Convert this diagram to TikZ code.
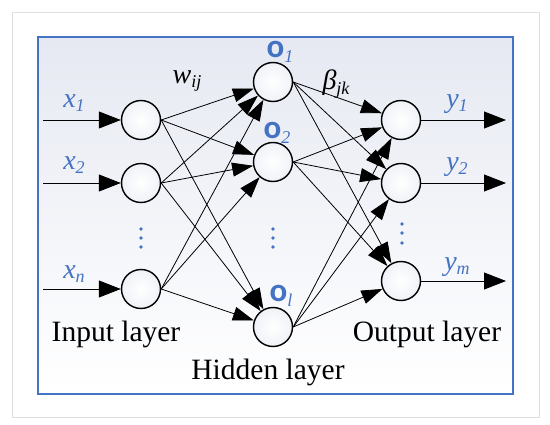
\documentclass[tikz,border=0pt]{standalone}
\usepackage{fontspec}
\setmainfont{Liberation Serif}
\newfontfamily\osans{Carlito}
\usepackage{tikz}
\usetikzlibrary{arrows.meta, positioning}

\definecolor{netblue}{HTML}{4472C4}
\definecolor{paneltop}{HTML}{E6E9F2}
\newcommand{\lowsub}[1]{\raisebox{-0.35ex}{\fontsize{18}{18}\selectfont\itshape #1}}

\begin{document}
\begin{tikzpicture}[
    x=1pt, y=-1pt,
    neuron/.style={circle, draw, line width=1.4pt, minimum size=39pt, inner sep=0pt, shading=radial, inner color=white, outer color=paneltop!60!white},
    arrow/.style={-{Triangle[length=21pt, width=14pt]}, line width=0.8pt},
    ioarrow/.style={-{Triangle[length=22pt, width=17pt]}, line width=0.8pt},
    varlabel/.style={text=netblue, font=\fontsize{28}{28}\selectfont\itshape},
    olabel/.style={text=netblue, font=\fontsize{33}{33}\selectfont\osans\bfseries},
    dotmark/.style={circle, fill=netblue, inner sep=0pt, minimum width=3.4pt, minimum height=3.8pt},
    layer/.style={font=\fontsize{29.5}{29.5}\selectfont}
]
\useasboundingbox (0,0) rectangle (550,425);

% frames
\draw[gray!25, line width=0.8pt] (12,12) rectangle (539,417);
\draw[netblue, line width=1.8pt, top color=paneltop, bottom color=white] (38,37) rectangle (513,394);

% input layer
\node[neuron] (in1) at (141,120) {};
\node[neuron] (in2) at (141,183) {};
\node[neuron] (inn) at (141,289) {};
\foreach \k/\yy in {a/229, b/238, c/247}
    \node[dotmark] (indot\k) at (141,\yy) {};

% hidden layer
\node[neuron] (hid1) at (273,82) {};
\node[neuron] (hid2) at (273,162) {};
\node[neuron] (hidl) at (273,327) {};
\foreach \k/\yy in {a/229, b/238, c/247}
    \node[dotmark] (hiddot\k) at (273,\yy) {};

% output layer
\node[neuron] (out1) at (401,120) {};
\node[neuron] (out2) at (401,183) {};
\node[neuron] (outm) at (401,281) {};
\foreach \k/\yy in {a/224, b/233, c/243}
    \node[dotmark] (outdot\k) at (402,\yy) {};

% inputs and outputs
\coordinate (x1in) at (43,120);
\coordinate (x2in) at (43,183);
\coordinate (xnin) at (43,289);
\coordinate (y1out) at (506,120);
\coordinate (y2out) at (506,183);
\coordinate (ymout) at (506,281);

\draw[ioarrow] (x1in) -- (in1);
\draw[ioarrow] (x2in) -- (in2);
\draw[ioarrow] (xnin) -- (inn);
\draw[ioarrow] (out1) -- (y1out);
\draw[ioarrow] (out2) -- (y2out);
\draw[ioarrow] (outm) -- (ymout);

% labels
\node[varlabel] (x1) at (74,103) {x\lowsub{1}};
\node[varlabel] (x2) at (74,165) {x\lowsub{2}};
\node[varlabel] (xn) at (74,274) {x\lowsub{n}};
\node[varlabel] (y1) at (457,104) {y\lowsub{1}};
\node[varlabel] (y2) at (457,167) {y\lowsub{2}};
\node[varlabel] (ym) at (457,267) {y\lowsub{m}};
\node[olabel] (o1) at (280,52) {o\lowsub{\rmfamily\mdseries 1}};
\node[olabel] (o2) at (277,133) {o\lowsub{\rmfamily\mdseries 2}};
\node[olabel] (ol) at (281,296) {o\lowsub{\rmfamily\mdseries l}};
\node[font=\fontsize{28}{28}\selectfont\itshape] (wij) at (187,81) {w\lowsub{ij}};
\node[font=\fontsize{28}{28}\selectfont\itshape] (bjk) at (336,84) {β\lowsub{jk}};

% layer names
\node[layer] (inname) at (116,334) {Input layer};
\node[layer] (hidname) at (268,372) {Hidden layer};
\node[layer] (outname) at (427,334) {Output layer};

% input -> hidden
\draw[arrow] (in1.east) -- (hid1);
\draw[arrow] (in1.east) -- (hid2);
\draw[arrow] (in1.east) -- (hidl);
\draw[arrow] (in2.east) -- (hid1);
\draw[arrow] (in2.east) -- (hid2);
\draw[arrow] (in2.east) -- (hidl);
\draw[arrow] (inn.east) -- (hid1);
\draw[arrow] (inn.east) -- (hid2);
\draw[arrow] (inn.east) -- (hidl);

% hidden -> output
\draw[arrow] (hid1.east) -- (out1);
\draw[arrow] (hid1.east) -- (out2);
\draw[arrow] (hid1.east) -- (outm);
\draw[arrow] (hid2.east) -- (out1);
\draw[arrow] (hid2.east) -- (out2);
\draw[arrow] (hid2.east) -- (outm);
\draw[arrow] (hidl.east) -- (out1);
\draw[arrow] (hidl.east) -- (out2);
\draw[arrow] (hidl.east) -- (outm);

\end{tikzpicture}
\end{document}
